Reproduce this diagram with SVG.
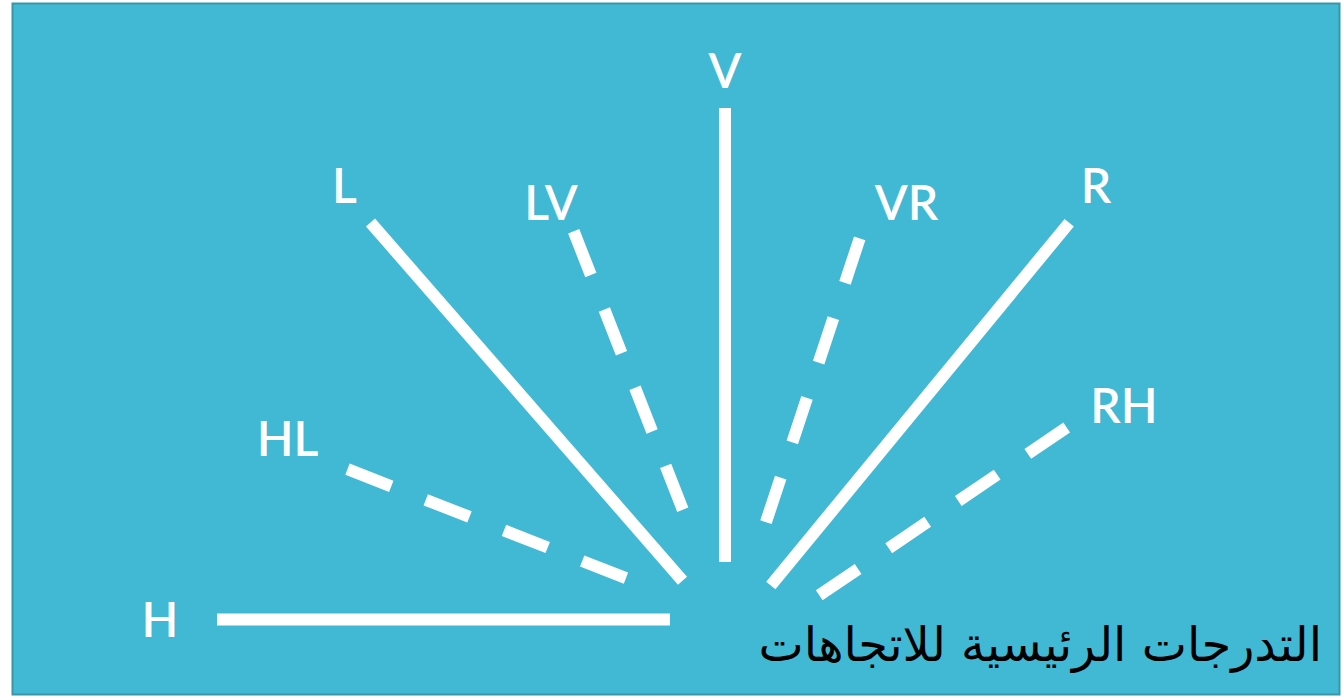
<svg xmlns="http://www.w3.org/2000/svg" width="1344" height="700" viewBox="0 0 1344 700">
<style>
.ray{stroke:#ffffff;stroke-width:12;stroke-linecap:butt;fill:none}
.dash{stroke-dasharray:47 37}
.lbl{font-family:Lato,"Open Sans","DejaVu Sans",sans-serif;font-weight:600;font-size:48px;fill:#ffffff;text-anchor:middle}
.title{font-family:"DejaVu Sans","Noto Sans",sans-serif;font-size:48px;fill:#000000;text-anchor:end}
</style>
<rect x="0" y="0" width="1344" height="700" fill="#ffffff"/>
<rect id="panel" x="12.5" y="3.5" width="1327" height="691" fill="#41b9d4" stroke="#3a96a7" stroke-width="2"/>
<g id="connectors">
<line class="ray" x1="217" y1="619.5" x2="670" y2="619.5"/>
<line class="ray dash" x1="347.5" y1="469.2" x2="627.5" y2="578.7"/>
<line class="ray" x1="370.5" y1="222.5" x2="682.5" y2="580.7"/>
<line class="ray dash" x1="573.7" y1="231.3" x2="683.3" y2="511"/>
<line class="ray" x1="725" y1="108" x2="725" y2="562"/>
<line class="ray dash" x1="859.7" y1="238.3" x2="765.7" y2="523"/>
<line class="ray" x1="1069.2" y1="222.7" x2="770.8" y2="585.5"/>
<line class="ray dash" x1="1066.7" y1="427.5" x2="818.5" y2="595.8"/>
</g>
<g id="node-H"><text class="lbl" x="160" y="637">H</text></g>
<g id="node-HL"><text class="lbl" x="287.5" y="456">HL</text></g>
<g id="node-L"><text class="lbl" x="344.5" y="203">L</text></g>
<g id="node-LV"><text class="lbl" x="551" y="220">LV</text></g>
<g id="node-V"><text class="lbl" x="725" y="88">V</text></g>
<g id="node-VR"><text class="lbl" x="906.5" y="220">VR</text></g>
<g id="node-R"><text class="lbl" x="1096" y="203">R</text></g>
<g id="node-RH"><text class="lbl" x="1124" y="423">RH</text></g>
<g id="title"><text class="title" x="1322" y="661">التدرجات الرئيسية للاتجاهات</text></g>
</svg>
